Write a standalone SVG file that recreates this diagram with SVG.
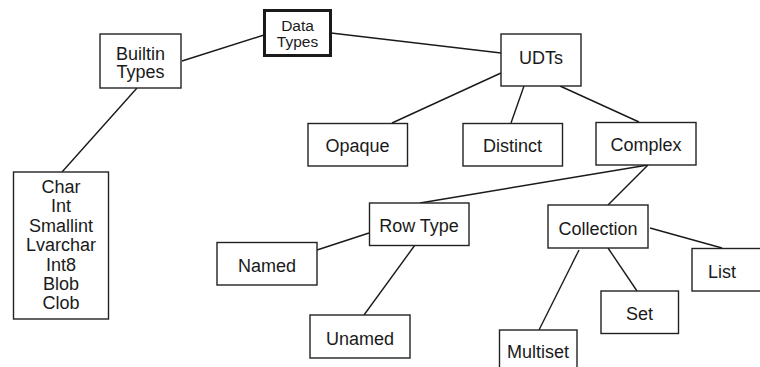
<svg xmlns="http://www.w3.org/2000/svg" width="760" height="367" viewBox="0 0 760 367">
  <style>
    .box { fill: #ffffff; stroke: #222222; stroke-width: 1.4; }
    .root { fill: #ffffff; stroke: #1a1a1a; stroke-width: 3; }
    .link { fill: none; stroke: #1a1a1a; stroke-width: 1.4; }
    text { font-family: "Liberation Sans", Arial, sans-serif; font-size: 18px; fill: #1a1a1a; text-anchor: middle; }
    .small { font-size: 15.5px; }
  </style>
  <rect width="760" height="367" fill="#ffffff"/>

  <!-- connectors -->
  <g id="connectors">
    <line class="link" x1="182" y1="61" x2="264" y2="35"/>
    <line class="link" x1="331" y1="33" x2="501" y2="53"/>
    <line class="link" x1="137" y1="88" x2="62" y2="172"/>
    <line class="link" x1="501" y1="73" x2="392" y2="123"/>
    <line class="link" x1="524" y1="86" x2="511" y2="123"/>
    <line class="link" x1="560" y1="86" x2="639" y2="122"/>
    <line class="link" x1="648" y1="165" x2="420" y2="203"/>
    <line class="link" x1="648" y1="165" x2="608" y2="205"/>
    <line class="link" x1="369" y1="233" x2="317" y2="250"/>
    <line class="link" x1="415" y1="245" x2="364" y2="315"/>
    <line class="link" x1="650" y1="228" x2="722" y2="248"/>
    <line class="link" x1="608" y1="248" x2="637" y2="291"/>
    <line class="link" x1="579" y1="250" x2="539" y2="330"/>
  </g>

  <g id="data-types">
    <rect class="root" x="264.5" y="10.5" width="66" height="45"/>
    <text class="small" x="297.5" y="30.5">Data</text>
    <text class="small" x="297.5" y="47">Types</text>
  </g>

  <g id="builtin-types">
    <rect class="box" x="100" y="34" width="81" height="54"/>
    <text x="140.5" y="59.5">Builtin</text>
    <text x="140.5" y="78">Types</text>
  </g>

  <g id="builtin-list">
    <rect class="box" x="13.5" y="172" width="95" height="147"/>
    <text x="61" y="193">Char</text>
    <text x="61" y="212.4">Int</text>
    <text x="61" y="231.8">Smallint</text>
    <text x="61" y="251.2">Lvarchar</text>
    <text x="61" y="270.6">Int8</text>
    <text x="61" y="290">Blob</text>
    <text x="61" y="309.4">Clob</text>
  </g>

  <g id="udts">
    <rect class="box" x="501" y="34" width="80" height="52"/>
    <text x="541" y="64">UDTs</text>
  </g>

  <g id="opaque">
    <rect class="box" x="308" y="123.5" width="99.5" height="42.5"/>
    <text x="357.5" y="152">Opaque</text>
  </g>

  <g id="distinct">
    <rect class="box" x="463" y="123.5" width="99.5" height="42.5"/>
    <text x="512.5" y="152">Distinct</text>
  </g>

  <g id="complex">
    <rect class="box" x="596" y="122.5" width="100" height="42.5"/>
    <text x="646" y="150.5">Complex</text>
  </g>

  <g id="row-type">
    <rect class="box" x="369.5" y="203" width="99.5" height="42.5"/>
    <text x="419" y="232">Row Type</text>
  </g>

  <g id="named">
    <rect class="box" x="217" y="242.5" width="100" height="42.5"/>
    <text x="267" y="271.5">Named</text>
  </g>

  <g id="unamed">
    <rect class="box" x="310" y="315" width="100" height="43"/>
    <text x="360" y="344.5">Unamed</text>
  </g>

  <g id="collection">
    <rect class="box" x="548" y="205" width="100" height="43"/>
    <text x="598" y="234.5">Collection</text>
  </g>

  <g id="list">
    <rect class="box" x="692" y="248.5" width="80" height="42.5"/>
    <text x="722" y="278">List</text>
  </g>

  <g id="set">
    <rect class="box" x="601" y="291" width="77.5" height="42.5"/>
    <text x="639.5" y="320">Set</text>
  </g>

  <g id="multiset">
    <rect class="box" x="499.5" y="330" width="77.5" height="50"/>
    <text x="538" y="358">Multiset</text>
  </g>
</svg>
